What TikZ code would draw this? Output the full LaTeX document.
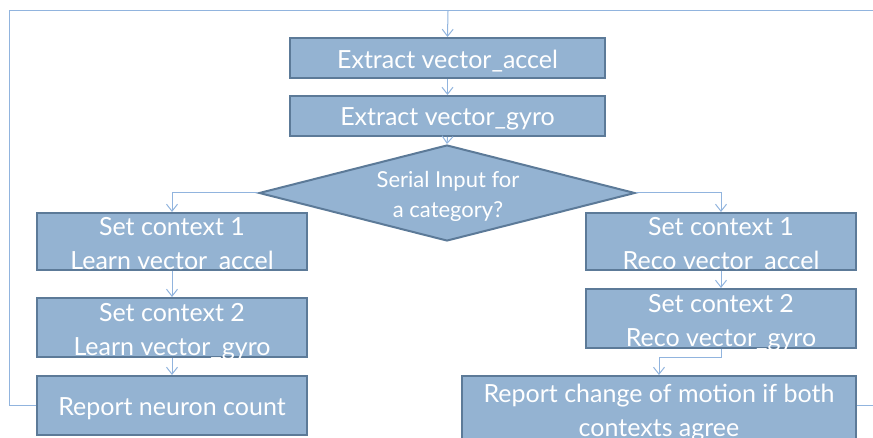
\documentclass[tikz,border=0pt]{standalone}
\usepackage{fontspec}
\setmainfont{Lato}
\usetikzlibrary{shapes.geometric,arrows.meta}
\definecolor{boxfill}{RGB}{148,179,210}
\definecolor{boxline}{RGB}{92,122,152}
\definecolor{conncol}{RGB}{145,180,222}
\tikzset{
  box/.style={draw=boxline, line width=2pt, fill=boxfill, inner sep=0pt},
  boxtxt/.style={text=white, inner sep=0pt, font=\fontsize{25}{34}\selectfont, align=center, yshift=-3pt},
  dia/.style={shape=diamond, draw=boxline, line width=2pt, fill=boxfill, inner sep=0pt,
    minimum width=376pt, minimum height=96pt},
  diatext/.style={text=white, font=\fontsize{22}{30}\selectfont, align=center, inner sep=0pt},
  conn/.style={draw=conncol, line width=1pt},
  arr/.style={conn, -{Straight Barb[length=7pt,width=11pt]}},
}
\begin{document}
\begin{tikzpicture}[x=1pt,y=-1pt]
\useasboundingbox (0,0) rectangle (873,438);
% top boxes
\node[box, minimum width=315pt, minimum height=40pt,
  label={[boxtxt]center:Extract vector\_accel}] (e1) at (447.5,58) {};
\node[box, minimum width=315pt, minimum height=40pt,
  label={[boxtxt]center:Extract vector\_gyro}] (e2) at (447.5,116) {};
% decision
\node[dia] (d) at (447,193) {};
\node[diatext] (dt) at (448,196) {Serial Input for\\a category?};
% left column
\node[box, minimum width=270pt, minimum height=57pt,
  label={[boxtxt,yshift=-1pt]center:Set context 1\\Learn vector\_accel}] (l1) at (172,241.5) {};
\node[box, minimum width=270pt, minimum height=59pt,
  label={[boxtxt,yshift=-1pt]center:Set context 2\\Learn vector\_gyro}] (l2) at (172,327.5) {};
\node[box, minimum width=270pt, minimum height=59pt,
  label={[boxtxt]center:Report neuron count}] (l3) at (172,405.5) {};
% right column
\node[box, minimum width=270pt, minimum height=57pt,
  label={[boxtxt,yshift=-1pt]center:Set context 1\\Reco vector\_accel}] (r1) at (721,241.5) {};
\node[box, minimum width=270pt, minimum height=59pt,
  label={[boxtxt,yshift=-1pt]center:Set context 2\\Reco vector\_gyro}] (r2) at (721,318.5) {};
\node[box, minimum width=394pt, minimum height=70pt,
  label={[boxtxt,yshift=1pt]center:Report change of motion if both\\contexts agree}] (r3) at (659,411) {};
% loop coordinates
\coordinate (tl) at (9,11);
\coordinate (tr) at (873,11);
\coordinate (tm) at (448,11);
\coordinate (bl) at (9,405);
\coordinate (br) at (873,405);
% connectors
\draw[conn] (l3.west |- bl) -- (bl) -- (tl) -- (tr);
\draw[conn] (r3.east |- br) -- (br);
\draw[arr] (tm) -- (e1.north);
\draw[arr] (e1.south) -- (e2.north);
\draw[arr] (e2.south) -- (d.north);
\draw[arr] (d.west) -| (l1.north);
\draw[arr] (d.east) -| (r1.north);
\draw[arr] (l1.south) -- (l2.north);
\draw[arr] (l2.south) -- (l3.north);
\draw[arr] (r1.south) -- (r2.north);
\draw[arr] (r2.south) -- ++(0,9) -| (r3.north);
\end{tikzpicture}
\end{document}
